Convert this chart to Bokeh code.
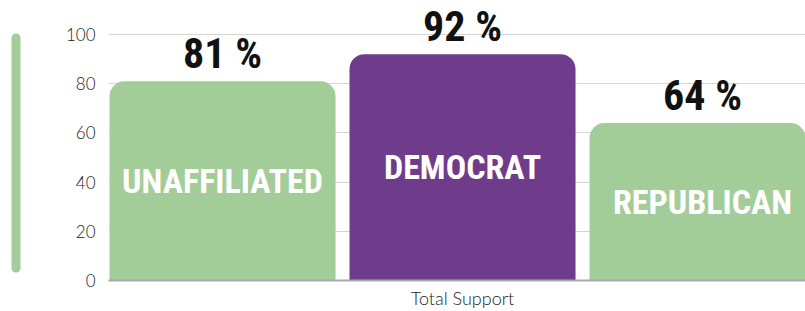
from bokeh.plotting import figure
from bokeh.models import Range1d, FixedTicker, ColumnDataSource
from bokeh.layouts import row
from bokeh.core.properties import value
from bokeh.embed import file_html
from bokeh.resources import INLINE

# ---- data ----
categories = ["UNAFFILIATED", "DEMOCRAT", "REPUBLICAN"]
support = [81, 92, 64]
bar_colors = ["#a2cd98", "#6f3c8b", "#a2cd98"]
x_label = "Total Support"
y_ticks = [0, 20, 40, 60, 80, 100]
side_bar_span = [5.1, 98.6]

x = list(range(len(categories)))
src = ColumnDataSource(dict(
    x=x,
    top=support,
    mid=[v / 2 for v in support],
    name=categories,
    pct=[f"{v} %" for v in support],
    color=bar_colors,
))

COND = "'Roboto Condensed', 'Open Sans Condensed', 'Roboto', sans-serif"
LIGHT = "'Lato Light', 'Lato', 'Liberation Sans', sans-serif"

yr = Range1d(0, 113.82)

p = figure(width=775, height=311, x_range=Range1d(-0.475, 2.429), y_range=yr,
           output_backend="svg", toolbar_location=None,
           min_border_left=78, min_border_right=0, min_border_top=0, min_border_bottom=31)
p.outline_line_color = None
p.vbar(x="x", top="top", width=0.9417, bottom=0, fill_color="color", line_color=None,
       source=src, border_radius=(15, 15, 0, 0))

p.text(x="x", y="top", text="pct", source=src, text_align="center",
       text_baseline="bottom", y_offset=-3,
       text_font=value(COND), text_font_style="bold", text_font_size="42px",
       text_color="#111111")
p.text(x="x", y="mid", text="name", source=src, text_align="center",
       text_baseline="middle",
       text_font=value(COND), text_font_style="bold", text_font_size="34px",
       text_color="#ffffff")

p.xgrid.visible = False
p.ygrid.ticker = FixedTicker(ticks=y_ticks)
p.ygrid.grid_line_color = "#d4d4d4"

p.yaxis.ticker = FixedTicker(ticks=y_ticks)
p.yaxis.axis_line_color = None
p.yaxis.major_tick_line_color = None
p.yaxis.minor_tick_line_color = None
p.yaxis.major_tick_out = 0
p.yaxis.major_tick_in = 0
p.yaxis.minor_tick_out = 0
p.yaxis.major_label_standoff = 13
p.yaxis.major_label_text_font = LIGHT
p.yaxis.major_label_text_font_size = "17px"
p.yaxis.major_label_text_color = "#222222"

p.xaxis.ticker = FixedTicker(ticks=[1])
p.xaxis.major_label_overrides = {1: x_label}
p.xaxis.axis_line_color = "#a8a8a8"
p.xaxis.axis_line_width = 2
p.xaxis.major_tick_line_color = None
p.xaxis.minor_tick_line_color = None
p.xaxis.major_tick_out = 0
p.xaxis.major_tick_in = 0
p.xaxis.minor_tick_out = 0
p.xaxis.major_label_standoff = 6
p.xaxis.major_label_text_font = LIGHT
p.xaxis.major_label_text_font_size = "18px"
p.xaxis.major_label_text_color = "#222222"

s = figure(width=30, height=311, x_range=Range1d(0, 30), y_range=yr,
           output_backend="svg", toolbar_location=None,
           min_border_left=0, min_border_right=0, min_border_top=0, min_border_bottom=31)
s.outline_line_color = None
s.axis.visible = False
s.grid.visible = False
s.line(x=[15.5, 15.5], y=side_bar_span, line_width=9, line_cap="round", line_color=bar_colors[0])

layout = row(s, p)
open("out.html", "w").write(file_html(layout, INLINE))
